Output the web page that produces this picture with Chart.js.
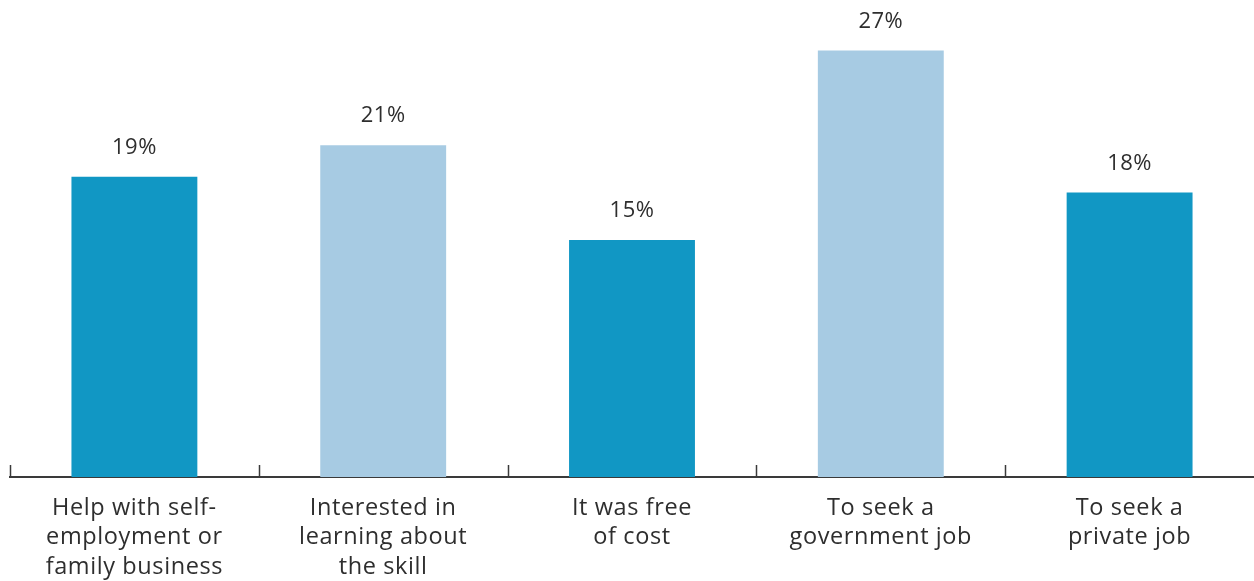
<!DOCTYPE html>
<html>
<head>
<meta charset="utf-8">
<script src="https://cdn.jsdelivr.net/npm/chart.js@4.4.1/dist/chart.umd.min.js"></script>
<style>
  html, body { margin: 0; padding: 0; background: #ffffff; }
  #wrap { width: 1254px; height: 581px; position: relative; }
</style>
</head>
<body>
<div id="wrap"><canvas id="chart"></canvas></div>
<script>
// Reasons for taking up skill training (share of respondents, %)
const categories = [
  ["Help with self-", "employment or", "family business"],
  ["Interested in", "learning about", "the skill"],
  ["It was free", "of cost"],
  ["To seek a", "government job"],
  ["To seek a", "private job"]
];
const shares = [19, 21, 15, 27, 18];
const barColors = ["#1197c4", "#a7cbe3", "#1197c4", "#a7cbe3", "#1197c4"];

const FONT = "'Open Sans', Inter, 'DejaVu Sans', sans-serif";
const TEXT = "#2e2e2e";

// Slightly wider tracking for all chart text
const tracking = {
  id: "tracking",
  beforeDraw(chart) {
    if ("letterSpacing" in chart.ctx) chart.ctx.letterSpacing = "0.6px";
  }
};

// Value labels above each bar
const valueLabels = {
  id: "valueLabels",
  afterDatasetsDraw(chart) {
    const ctx = chart.ctx;
    const meta = chart.getDatasetMeta(0);
    ctx.save();
    if ("letterSpacing" in ctx) ctx.letterSpacing = "0.5px";
    ctx.font = "22px " + FONT;
    ctx.fillStyle = TEXT;
    ctx.textAlign = "center";
    ctx.textBaseline = "middle";
    meta.data.forEach((bar, i) => {
      ctx.fillText(shares[i] + "%", bar.x, bar.y - 29);
    });
    ctx.restore();
  }
};

// Short upward tick marks on the category boundaries
const boundaryTicks = {
  id: "boundaryTicks",
  afterDraw(chart) {
    const x = chart.scales.x;
    const ctx = chart.ctx;
    const bottom = chart.chartArea.bottom;
    const half = (x.getPixelForValue(1) - x.getPixelForValue(0)) / 2;
    ctx.save();
    ctx.strokeStyle = "#3a3a3a";
    ctx.lineWidth = 1.5;
    for (let i = 0; i < categories.length; i++) {
      const px = Math.round(x.getPixelForValue(i) - half) + 0.5;
      ctx.beginPath();
      ctx.moveTo(px, bottom);
      ctx.lineTo(px, bottom - 12);
      ctx.stroke();
    }
    ctx.restore();
  }
};

new Chart(document.getElementById("chart"), {
  type: "bar",
  data: {
    labels: categories,
    datasets: [{
      data: shares,
      backgroundColor: barColors,
      borderWidth: 0,
      categoryPercentage: 1,
      barPercentage: 0.506
    }]
  },
  options: {
    responsive: true,
    maintainAspectRatio: false,
    animation: false,
    layout: { padding: { top: 3, left: 10, right: 0, bottom: 0 } },
    plugins: {
      legend: { display: false },
      tooltip: { enabled: false }
    },
    scales: {
      x: {
        grid: { display: false, drawTicks: false },
        border: { display: true, color: "#3a3a3a", width: 2 },
        afterFit(scale) { scale.height = 104; },
        ticks: {
          color: TEXT,
          font: { family: FONT, size: 23.5, lineHeight: 1.24 },
          padding: 17,
          maxRotation: 0,
          autoSkip: false
        }
      },
      y: {
        display: false,
        min: 0,
        max: 30
      }
    }
  },
  plugins: [tracking, valueLabels, boundaryTicks]
});
</script>
</body>
</html>
